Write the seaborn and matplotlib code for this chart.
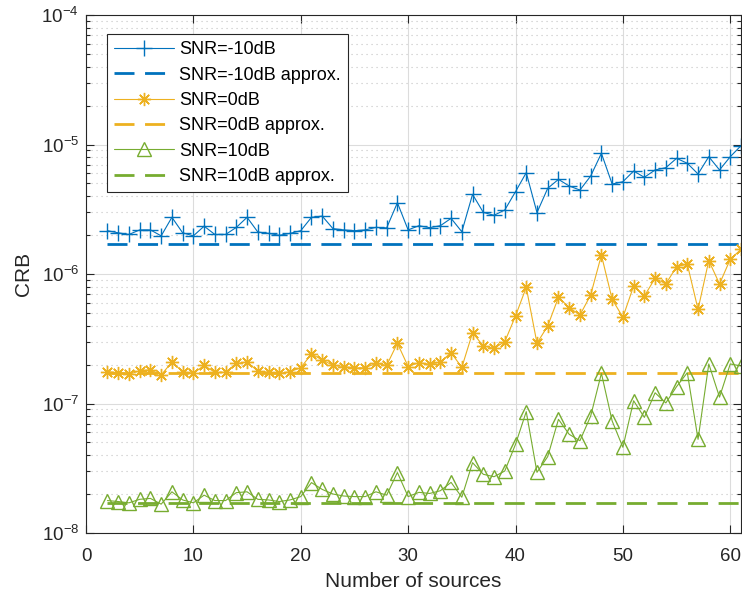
import numpy as np
import pandas as pd
import matplotlib
matplotlib.use("Agg")
import matplotlib.pyplot as plt
import seaborn as sns
from matplotlib.ticker import LogLocator, NullFormatter

# ---- data ----
n_sources = list(range(2, 62))

crb_m10 = [2.16e-6, 2.08e-6, 2.02e-6, 2.19e-6, 2.19e-6, 1.97e-6, 2.74e-6, 2.08e-6, 1.97e-6, 2.34e-6,
           2.02e-6, 2.02e-6, 2.29e-6, 2.74e-6, 2.11e-6, 2.06e-6, 1.99e-6, 2.06e-6, 2.16e-6, 2.74e-6,
           2.80e-6, 2.24e-6, 2.19e-6, 2.16e-6, 2.19e-6, 2.29e-6, 2.27e-6, 3.55e-6, 2.19e-6, 2.36e-6,
           2.28e-6, 2.36e-6, 2.69e-6, 2.12e-6, 4.12e-6, 2.99e-6, 2.84e-6, 3.12e-6, 4.32e-6, 6.06e-6,
           2.98e-6, 4.59e-6, 5.38e-6, 4.78e-6, 4.45e-6, 5.71e-6, 8.55e-6, 4.95e-6, 5.16e-6, 6.24e-6,
           5.58e-6, 6.36e-6, 6.62e-6, 7.82e-6, 7.16e-6, 5.92e-6, 8.05e-6, 6.36e-6, 8.05e-6, 9.79e-6]

crb_0 = [1.76e-7, 1.73e-7, 1.68e-7, 1.79e-7, 1.82e-7, 1.66e-7, 2.09e-7, 1.76e-7, 1.71e-7, 1.97e-7,
         1.74e-7, 1.74e-7, 2.04e-7, 2.09e-7, 1.78e-7, 1.74e-7, 1.71e-7, 1.76e-7, 1.89e-7, 2.41e-7,
         2.17e-7, 1.97e-7, 1.93e-7, 1.88e-7, 1.89e-7, 2.04e-7, 1.97e-7, 2.92e-7, 1.93e-7, 2.07e-7,
         2.01e-7, 2.09e-7, 2.47e-7, 1.90e-7, 3.52e-7, 2.78e-7, 2.67e-7, 3.00e-7, 4.74e-7, 7.89e-7,
         2.92e-7, 3.97e-7, 6.61e-7, 5.50e-7, 4.82e-7, 6.89e-7, 1.40e-6, 6.38e-7, 4.63e-7, 8.08e-7,
         6.76e-7, 9.27e-7, 8.38e-7, 1.14e-6, 1.19e-6, 5.33e-7, 1.27e-6, 8.38e-7, 1.30e-6, 1.55e-6]

crb_10 = [1.78e-8, 1.75e-8, 1.71e-8, 1.82e-8, 1.85e-8, 1.67e-8, 2.08e-8, 1.80e-8, 1.71e-8, 1.96e-8,
          1.78e-8, 1.78e-8, 2.05e-8, 2.08e-8, 1.82e-8, 1.80e-8, 1.75e-8, 1.80e-8, 1.91e-8, 2.45e-8,
          2.17e-8, 2.00e-8, 1.93e-8, 1.91e-8, 1.91e-8, 2.08e-8, 1.96e-8, 2.93e-8, 1.91e-8, 2.06e-8,
          2.02e-8, 2.12e-8, 2.46e-8, 1.89e-8, 3.49e-8, 2.84e-8, 2.72e-8, 3.01e-8, 4.84e-8, 8.65e-8,
          2.94e-8, 3.89e-8, 7.55e-8, 5.78e-8, 5.16e-8, 8.00e-8, 1.71e-7, 7.33e-8, 4.59e-8, 1.05e-7,
          7.81e-8, 1.21e-7, 1.01e-7, 1.35e-7, 1.73e-7, 5.29e-8, 2.02e-7, 1.12e-7, 2.02e-7, 1.95e-7]

approx_x = [2, 61]
approx_m10 = [1.71e-6, 1.71e-6]
approx_0 = [1.71e-7, 1.71e-7]
approx_10 = [1.71e-8, 1.71e-8]

labels = ["SNR=-10dB", "SNR=-10dB approx.", "SNR=0dB", "SNR=0dB approx.",
          "SNR=10dB", "SNR=10dB approx."]

# ---- style ----
sns.set_theme(style="ticks")
plt.rcParams['font.family'] = ['Liberation Sans', 'DejaVu Sans']
plt.rcParams['mathtext.fontset'] = 'custom'
plt.rcParams['mathtext.rm'] = 'Liberation Sans'
plt.rcParams['mathtext.it'] = 'Liberation Sans'

BLUE = "#0072BD"
ORANGE = "#EDB120"
GREEN = "#77AC30"
AX = "#262626"

fig = plt.figure(figsize=(7.42, 5.99), dpi=100)
ax = fig.add_axes([86/742, 66/599, 655/742, 518/599])

dash = (7.2, 3.8)

sns.lineplot(x=n_sources, y=crb_m10, ax=ax, color=BLUE, lw=0.8, marker='+',
             markersize=11, markeredgecolor=BLUE, markeredgewidth=1.0, label=labels[0])
sns.lineplot(x=approx_x, y=approx_m10, ax=ax, color=BLUE, lw=2.0,
             label=labels[1]).lines[-1].set_dashes(dash)
sns.lineplot(x=n_sources, y=crb_0, ax=ax, color=ORANGE, lw=0.8, marker=(8, 2, 0),
             markersize=9.5, markeredgecolor=ORANGE, markeredgewidth=1.0, label=labels[2])
sns.lineplot(x=approx_x, y=approx_0, ax=ax, color=ORANGE, lw=2.0,
             label=labels[3]).lines[-1].set_dashes(dash)
sns.lineplot(x=n_sources, y=crb_10, ax=ax, color=GREEN, lw=0.8, marker='^',
             markersize=10, markerfacecolor='none', markeredgecolor=GREEN,
             markeredgewidth=1.0, label=labels[4])
sns.lineplot(x=approx_x, y=approx_10, ax=ax, color=GREEN, lw=2.0,
             label=labels[5]).lines[-1].set_dashes(dash)

ax.set_yscale('log')
ax.set_ylim(1e-8, 1e-4)
ax.set_xlim(0, 61)
ax.set_xticks([0, 10, 20, 30, 40, 50, 60])
ax.yaxis.set_major_locator(LogLocator(base=10, numticks=10))
ax.yaxis.set_minor_locator(LogLocator(base=10, subs=np.arange(2, 10), numticks=100))
ax.yaxis.set_minor_formatter(NullFormatter())

ax.grid(True, which='major', axis='both', color='#dcdcdc', lw=0.8, ls='-')
ax.grid(True, which='minor', axis='y', color='#c4c4c4', lw=0.8, ls=(0, (1, 3.5)))
ax.set_axisbelow(True)

for s in ax.spines.values():
    s.set_color(AX)
    s.set_linewidth(0.8)
ax.tick_params(which='both', direction='in', top=True, right=True, colors=AX,
               labelsize=13.5, width=0.8)
ax.tick_params(which='major', length=6)
ax.tick_params(which='minor', length=3)
ax.tick_params(axis='x', pad=10.5)
ax.tick_params(axis='y', pad=5)

ax.set_xlabel("Number of sources", fontsize=15, color=AX, labelpad=5)
ax.set_ylabel("CRB", fontsize=15, color=AX, labelpad=6)

leg = ax.legend(loc='upper left', bbox_to_anchor=(0.032, 0.963), fontsize=13,
                frameon=True, fancybox=False, framealpha=1, edgecolor=AX,
                handlelength=3.3, handletextpad=0.3, labelspacing=0.46,
                borderpad=0.4, borderaxespad=0)
leg.get_frame().set_linewidth(0.8)
for t in leg.get_texts():
    t.set_color('black')

fig.savefig("out.png", dpi=100)
